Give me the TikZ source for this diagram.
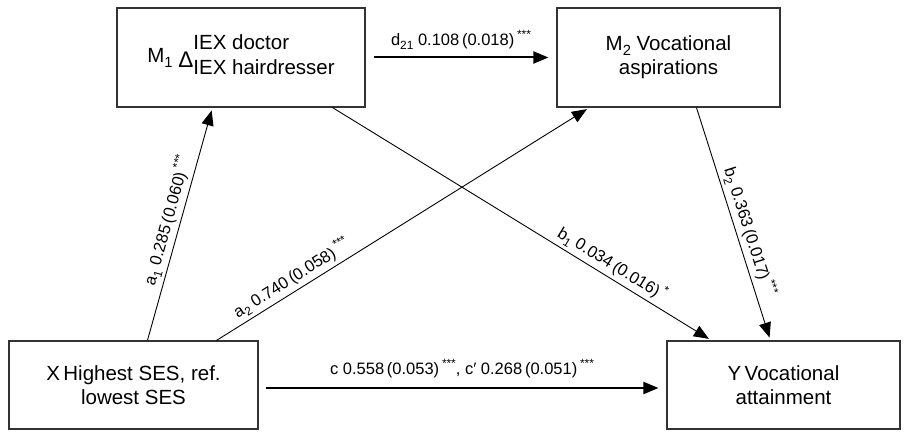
\documentclass[tikz,border=0pt]{standalone}
\usepackage{fontspec}
\usepackage{graphicx}
\setmainfont{Liberation Sans}
\usetikzlibrary{arrows.meta}
\newcommand{\lo}[1]{\raisebox{-0.25em}{\scalebox{0.72}{#1}}}
\newcommand{\hi}[1]{\raisebox{0.42em}{\scalebox{0.72}{#1}}}
\begin{document}
\begin{tikzpicture}[x=1pt,y=-1pt,
  box/.style={draw=black!80, line width=1.1pt, rectangle, minimum width=#1,
    minimum height=99pt, inner sep=0pt, align=center,
    font=\fontsize{20.5}{24}\selectfont},
  lowbox/.style={box=#1, minimum height=88pt},
  thickarrow/.style={line width=2pt, -{Triangle[length=15pt,width=12pt]}},
  thinarrow/.style={line width=0.9pt, shorten >=3pt, -{Triangle[length=15pt,width=12pt]}},
  lab/.style={font=\fontsize{16.5}{19}\selectfont, inner sep=3pt}
]
\useasboundingbox (0,0) rectangle (908,436);
\node[box=248pt] (M1) at (241,57.5) {M\lo{1} \raisebox{-5pt}{\scalebox{1.1}{Δ}}\begin{tabular}[c]{@{}l@{}}IEX doctor\\[1pt]IEX hairdresser\end{tabular}};
\node[box=223pt] (M2) at (668.5,57.5) {M\lo{2} Vocational\\aspirations};
\node[lowbox=249pt] (X) at (133.5,385) {X\,Highest SES, ref.\\lowest SES};
\node[lowbox=233pt] (Y) at (783.5,385) {Y\,Vocational\\attainment};

\draw[thickarrow] ([xshift=8pt]M1.east) -- ([xshift=-8pt]M2.west)
  node[lab, midway, above=4pt] {d\lo{21} 0.108\,(0.018)\,\hi{***}};
\draw[thickarrow] ([xshift=7pt,yshift=-3pt]X.east) -- ([xshift=-8pt,yshift=-3pt]Y.west)
  node[lab, midway, above=6pt] {c 0.558\,(0.053)\,\hi{***}, c′ 0.268\,(0.051)\,\hi{***}};

\draw[thinarrow] ([xshift=139pt]X.north west) -- ([xshift=96pt]M1.south west)
  node[lab, pos=0.5, sloped, above] {a\lo{1} 0.285\,(0.060)\,\hi{***}};
\draw[thinarrow] ([xshift=208pt]X.north west) -- ([xshift=33pt]M2.south west)
  node[lab, pos=0.22, sloped, above] {a\lo{2} 0.740\,(0.058)\,\hi{***}};
\draw[thinarrow] ([xshift=216pt]M1.south west) -- ([xshift=45pt]Y.north west)
  node[lab, pos=0.72, sloped, above] {b\lo{1} 0.034\,(0.016)\,\hi{*}};
\draw[thinarrow] ([xshift=140pt]M2.south west) -- ([xshift=104pt]Y.north west)
  node[lab, pos=0.55, sloped, above] {b\lo{2} 0.363\,(0.017)\,\hi{***}};
\end{tikzpicture}
\end{document}
